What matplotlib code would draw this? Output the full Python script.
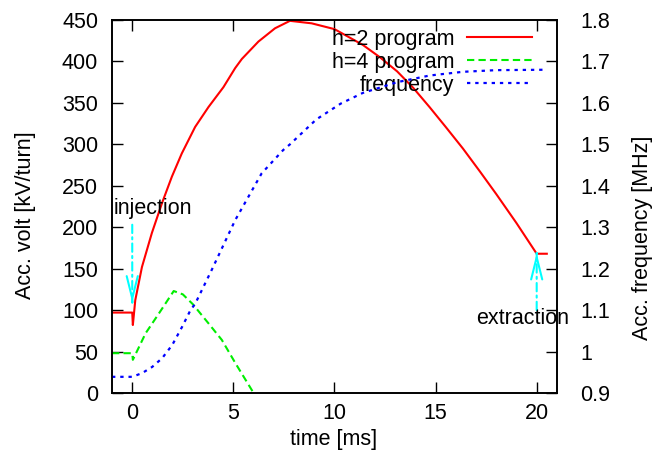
import matplotlib
matplotlib.use("Agg")
from matplotlib import pyplot as plt

plt.rcParams["font.family"] = ["Liberation Sans", "DejaVu Sans"]
plt.rcParams["font.size"] = 15.5

# h=2 voltage program [kV/turn]
t_h2 = [-1, 0, 0.03, 0.15, 0.48, 0.97, 1.47, 1.96, 2.45, 3.11, 3.77, 4.51, 5.09,
        5.42, 6.24, 7.06, 7.8, 8.87, 10.0, 11.4, 12.25, 13.1, 13.9, 14.7, 15.5,
        16.35, 17.2, 18.0, 19.0, 20.0, 20.5]
v_h2 = [97, 97, 82, 112, 152, 193, 229, 261, 289, 321, 345, 369, 392,
        403, 424, 440, 449, 446, 439, 420, 405, 388, 368, 345, 321,
        295, 267, 240, 205, 168, 168]

# h=4 voltage program [kV/turn]
t_h4 = [-1, 0, 0.03, 0.66, 1.32, 2.05, 2.5, 3.0, 3.77, 4.43, 5.1, 5.5, 5.9, 6.0]
v_h4 = [48, 48, 40, 72, 96, 123, 119, 107, 84, 64, 36, 20, 4, 0]

# rf frequency [MHz]
t_f = [-1, 0, 0.49, 0.99, 1.48, 1.98, 2.47, 2.88, 3.11, 3.93, 5.09, 6.4, 7.46,
       7.8, 9.1, 10.3, 11.4, 13.1, 14.7, 16.35, 18.0, 20.5]
f_rf = [0.939, 0.939, 0.948, 0.963, 0.984, 1.016, 1.06, 1.10, 1.115, 1.197, 1.317,
        1.43, 1.486, 1.50, 1.56, 1.598, 1.624, 1.65, 1.666, 1.675, 1.679, 1.68]

# annotations: text position, arrow tail, arrow tip
inj_text = (-0.94, 222)
inj_arrow = ((0, 203), (0, 109))
ext_text = (19.28, 90)
ext_arrow = ((20, 100), (20, 169))

fig = plt.figure(figsize=(6.68, 4.62), dpi=100)
ax = fig.add_axes([0.1677, 0.1494, 0.666, 0.8073])
ax2 = ax.twinx()

l1, = ax.plot(t_h2, v_h2, color="#ff0000", lw=1.5, label="h=2 program")
l2, = ax.plot(t_h4, v_h4, color="#00ee00", lw=1.5, ls=(0, (3.5, 2)), label="h=4 program")
l3, = ax2.plot(t_f, f_rf, color="#0000ff", lw=1.6, ls=(0, (1.5, 2.2)), label="frequency")

ax.set_xlim(-1, 21)
ax.set_ylim(0, 450)
ax2.set_ylim(0.9, 1.8)
ax.set_xticks([0, 5, 10, 15, 20])
ax.set_yticks(range(0, 451, 50))
ax2.set_yticks([0.9, 1.0, 1.1, 1.2, 1.3, 1.4, 1.5, 1.6, 1.7, 1.8])
ax2.set_yticklabels(["0.9", "1", "1.1", "1.2", "1.3", "1.4", "1.5", "1.6", "1.7", "1.8"])

ax.tick_params(axis="x", direction="in", top=True, length=8, width=1, pad=7)
ax.tick_params(axis="y", direction="in", length=8, width=1, pad=10)
ax2.tick_params(axis="y", direction="in", length=8, width=1, pad=17)
for a in (ax, ax2):
    for s in a.spines.values():
        s.set_linewidth(1.2)

ax.set_xlabel("time [ms]")
ax.xaxis.set_label_coords(0.497, -0.126)
ax.xaxis.label.set_va("center")
ax.set_ylabel("Acc. volt [kV/turn]")
ax.yaxis.set_label_coords(-0.1955, 0.477)
ax.yaxis.label.set_va("center")
ax2.set_ylabel("Acc. frequency [MHz]")
ax2.yaxis.set_label_coords(1.193, 0.4155)
ax2.yaxis.label.set_va("center")

# dash-dot shafts with solid open heads
for tail, tip in (inj_arrow, ext_arrow):
    ax.annotate("", xy=tip, xytext=tail,
                arrowprops=dict(arrowstyle="-", color="#00ffff", lw=1.5,
                                linestyle=(0, (4, 2, 1, 2)), shrinkA=0, shrinkB=0))
    step = 1 if tail[1] > tip[1] else -1
    ax.annotate("", xy=tip, xytext=(tip[0], tip[1] + step),
                arrowprops=dict(arrowstyle="->,head_length=0.8,head_width=0.2",
                                color="#00ffff", lw=1.5, shrinkA=0, shrinkB=0,
                                mutation_scale=20))
ax.text(inj_text[0], inj_text[1], "injection", ha="left", va="center")
ax.text(ext_text[0], ext_text[1], "extraction", ha="center", va="center")

ax.legend(handles=[l1, l2, l3], loc="upper right", bbox_to_anchor=(0.944, 0.977),
          frameon=False, markerfirst=False, handlelength=3, handletextpad=0.6,
          labelspacing=0.1, borderaxespad=0, borderpad=0)

fig.savefig("out.png", dpi=100)
